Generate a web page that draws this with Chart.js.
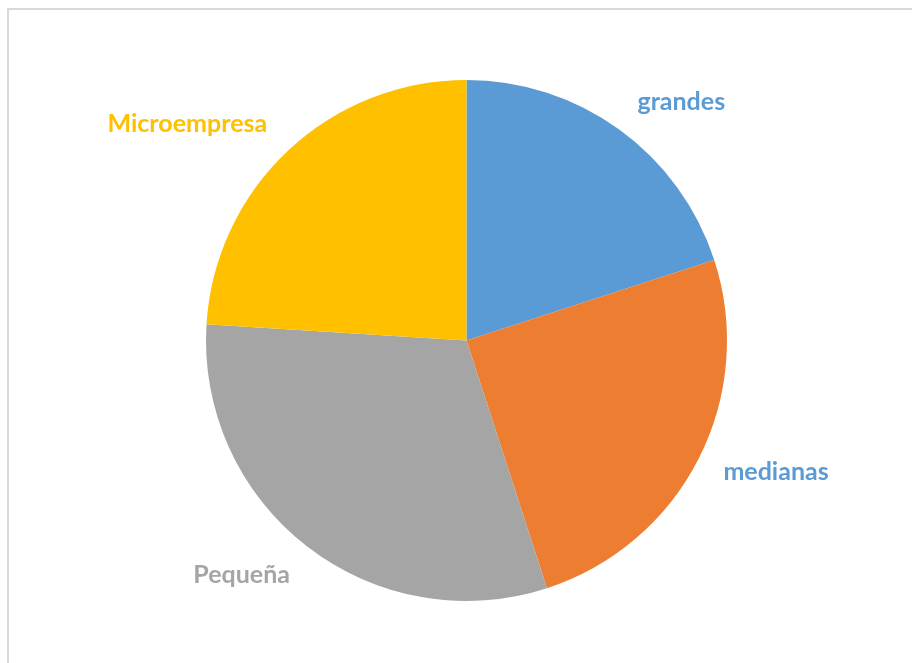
<!DOCTYPE html>
<html>
<head>
<meta charset="utf-8">
<script src="https://cdn.jsdelivr.net/npm/chart.js@4/dist/chart.umd.min.js"></script>
<style>
  html, body { margin: 0; padding: 0; background: #fff; overflow: hidden; }
  #marco {
    position: absolute; left: 7px; top: 8px; width: 960px; height: 700px;
    border-top: 2px solid #d9d9d9; border-left: 2px solid #d9d9d9;
  }
  #grafico { position: absolute; left: 0; top: 0; }
</style>
</head>
<body>
<div id="marco"></div>
<canvas id="grafico" width="912" height="663"></canvas>
<script>
// Empresas por tamaño (%)
const categorias = ['grandes', 'medianas', 'Pequeña', 'Microempresa'];
const valores = [20, 25, 31, 24];
const colores = ['#5B9BD5', '#ED7D31', '#A5A5A5', '#FFC000'];
const coloresEtiqueta = ['#5B9BD5', '#5B9BD5', '#A5A5A5', '#FFC000'];

// Etiquetas fuera del pastel, al estilo "ajuste perfecto" de Excel
const etiquetasExternas = {
    id: 'etiquetasExternas',
    afterDatasetsDraw(chart, args, opts) {
        const ctx = chart.ctx;
        const arcos = chart.getDatasetMeta(0).data;
        ctx.save();
        ctx.font = opts.font;
        ctx.textAlign = 'center';
        ctx.textBaseline = 'middle';
        arcos.forEach((arco, i) => {
            const { x, y, startAngle, endAngle, outerRadius } = arco.getProps(['x', 'y', 'startAngle', 'endAngle', 'outerRadius'], true);
            const ang = (startAngle + endAngle) / 2 + (opts.giro[i] || 0) * Math.PI / 180;
            const ux = Math.cos(ang), uy = Math.sin(ang);
            const texto = chart.data.labels[i];
            const w = ctx.measureText(texto).width;
            const h = opts.alto;
            const d = outerRadius + opts.separacion + Math.abs(ux) * w / 2 + Math.abs(uy) * h / 2;
            ctx.fillStyle = opts.colores[i];
            ctx.fillText(texto, x + ux * d, y + uy * d);
        });
        ctx.restore();
    }
};

const ctx = document.getElementById('grafico').getContext('2d');
new Chart(ctx, {
    type: 'pie',
    data: {
        labels: categorias,
        datasets: [{
            data: valores,
            backgroundColor: colores,
            borderWidth: 0
        }]
    },
    options: {
        responsive: false,
        animation: false,
        layout: { padding: { left: 206, right: 185, top: 80, bottom: 62 } },
        plugins: {
            legend: { display: false },
            tooltip: { enabled: false },
            etiquetasExternas: {
                font: 'bold 25px Lato',
                alto: 22,
                separacion: 23,
                giro: [6, -4, 6, -9],
                colores: coloresEtiqueta
            }
        }
    },
    plugins: [etiquetasExternas]
});
</script>
</body>
</html>
